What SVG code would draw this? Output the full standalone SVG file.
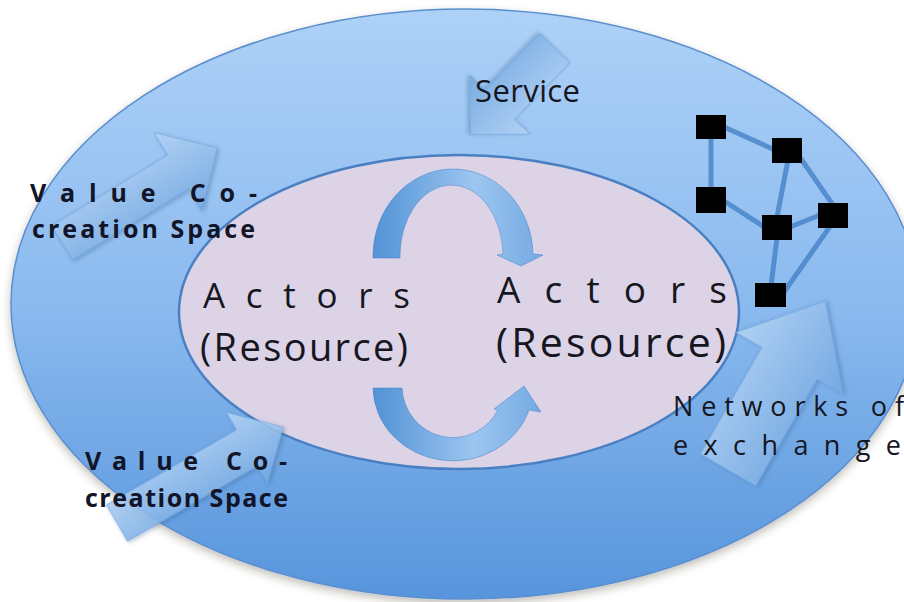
<svg xmlns="http://www.w3.org/2000/svg" width="904" height="602" viewBox="0 0 904 602">
  <defs>
    <linearGradient id="outerGrad" x1="0" y1="0" x2="0" y2="1">
      <stop offset="0" stop-color="#aed1f7"/>
      <stop offset="0.5" stop-color="#8bbaef"/>
      <stop offset="1" stop-color="#5795dc"/>
    </linearGradient>
    <linearGradient id="arrowGrad" x1="0" y1="0" x2="0" y2="1">
      <stop offset="0" stop-color="#b8d7f8"/>
      <stop offset="1" stop-color="#76abe5"/>
    </linearGradient>
    <linearGradient id="arcGrad" x1="0" y1="0" x2="1" y2="0">
      <stop offset="0" stop-color="#5292d6"/>
      <stop offset="0.6" stop-color="#9cc6f0"/>
      <stop offset="1" stop-color="#74a9e3"/>
    </linearGradient>
    <filter id="shadow" x="-10%" y="-10%" width="120%" height="125%">
      <feDropShadow dx="0" dy="4" stdDeviation="4" flood-color="#3a3020" flood-opacity="0.3"/>
    </filter>
    <filter id="softShadow" x="-20%" y="-20%" width="140%" height="140%">
      <feDropShadow dx="1" dy="2" stdDeviation="2" flood-color="#1d3f6e" flood-opacity="0.35"/>
    </filter>
  </defs>
  <style>
    .blockArrow { fill: url(#arrowGrad); fill-opacity: 0.85; stroke: #6a9fd9; stroke-width: 1; stroke-opacity: 0.7; filter: url(#softShadow); }
    .arc { fill: url(#arcGrad); stroke: #3f7cc2; stroke-width: 0.8; stroke-opacity: 0.6; }
    .lbl { font-family: "Open Sans", "Liberation Sans", sans-serif; fill: #16161f; }
    .bold { font-family: "Open Sans", "Liberation Sans", sans-serif; font-weight: bold; fill: #121428; font-size: 25px; }
    .net { stroke: #3f7ec4; stroke-width: 5; stroke-opacity: 0.75; fill: none; }
    .sq { fill: #000000; }
  </style>

  <rect width="904" height="602" fill="#ffffff"/>

  <g id="outer-space">
    <ellipse cx="465" cy="304" rx="454" ry="295" fill="url(#outerGrad)" stroke="#5a8fcf" stroke-width="1.5" filter="url(#shadow)"/>
  </g>

  <g id="inner-actors">
    <ellipse cx="459" cy="312" rx="280" ry="157" fill="#dcd3e6" stroke="#4a80c2" stroke-width="2.5"/>
  </g>

  <g id="connectors">
    <line class="net" x1="724" y1="127" x2="775" y2="150"/>
    <line class="net" x1="711" y1="136" x2="711" y2="190"/>
    <line class="net" x1="724" y1="201" x2="766" y2="228"/>
    <line class="net" x1="788" y1="160" x2="777" y2="217"/>
    <line class="net" x1="799" y1="156" x2="833" y2="205"/>
    <line class="net" x1="790" y1="227" x2="820" y2="215"/>
    <line class="net" x1="777" y1="238" x2="771" y2="286"/>
    <line class="net" x1="831" y1="225" x2="784" y2="292"/>
    <path class="arc" d="M373,258 A80,87 0 0 1 533,254 L543,255 L521,266 L497,255 L503,254 A51.5,71 0 0 0 400,258 Z"/>
    <path class="arc" d="M373,388 A80,74 0 0 0 529,410 L541,412 L524,386 L494,409 L498,410 A51,52 0 0 1 402,388 Z"/>
  </g>

  <g id="arrow-value-upper">
    <polygon class="blockArrow" transform="translate(62,243) rotate(-31.5)" points="0,-20 136,-20 136,-46 182,0 136,46 136,20 0,20"/>
  </g>
  <g id="arrow-value-lower">
    <polygon class="blockArrow" transform="translate(117,523) rotate(-30)" points="0,-21 150,-21 150,-41 192,0 150,41 150,21 0,21"/>
  </g>
  <g id="arrow-service">
    <polygon class="blockArrow" transform="translate(555,48) rotate(134.3)" points="0,-21 79,-21 79,-42 121,0 79,42 79,21 0,21"/>
  </g>
  <g id="arrow-networks">
    <polygon class="blockArrow" transform="translate(728,470) rotate(-60)" points="0,-32 123,-32 123,-62 195,0 123,62 123,32 0,32"/>
  </g>

  <g id="node-a"><rect class="sq" x="696" y="115" width="30" height="24"/></g>
  <g id="node-b"><rect class="sq" x="772" y="138" width="30" height="25"/></g>
  <g id="node-c"><rect class="sq" x="696" y="187" width="30" height="26"/></g>
  <g id="node-d"><rect class="sq" x="762" y="215" width="30" height="25"/></g>
  <g id="node-e"><rect class="sq" x="818" y="203" width="30" height="25"/></g>
  <g id="node-f"><rect class="sq" x="755" y="283" width="31" height="24"/></g>

  <g id="label-value-upper">
    <text class="bold" x="30" y="202" textLength="227" lengthAdjust="spacing">Value Co-</text>
    <text class="bold" x="32" y="238" textLength="223" lengthAdjust="spacing">creation Space</text>
  </g>
  <g id="label-value-lower">
    <text class="bold" x="85" y="470" textLength="202" lengthAdjust="spacing">Value Co-</text>
    <text class="bold" x="85" y="507" textLength="203" lengthAdjust="spacing">creation Space</text>
  </g>
  <g id="label-service">
    <text class="lbl" x="475" y="102" font-size="31" textLength="105" lengthAdjust="spacing">Service</text>
  </g>
  <g id="label-actors-left">
    <text class="lbl" x="203" y="308" font-size="35" textLength="207" lengthAdjust="spacing">Actors</text>
    <text class="lbl" x="200" y="361" font-size="38" textLength="208" lengthAdjust="spacing">(Resource)</text>
  </g>
  <g id="label-actors-right">
    <text class="lbl" x="497" y="303" font-size="37" textLength="230" lengthAdjust="spacing">Actors</text>
    <text class="lbl" x="496" y="357" font-size="41" textLength="230" lengthAdjust="spacing">(Resource)</text>
  </g>
  <g id="label-networks">
    <text class="lbl" x="673" y="416" font-size="27" textLength="231" lengthAdjust="spacing">Networks of</text>
    <text class="lbl" x="673" y="455" font-size="27" textLength="228" lengthAdjust="spacing">exchange</text>
  </g>
</svg>
